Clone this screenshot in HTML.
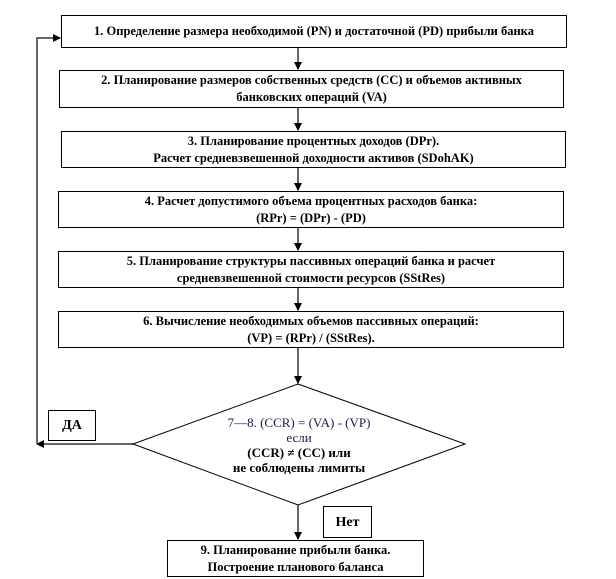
<!DOCTYPE html>
<html><head><meta charset="utf-8"><style>
body{margin:0;width:616px;height:579px;background:#fff;position:relative;overflow:hidden;font-family:"Liberation Serif",serif;}
.b{position:absolute;border:1px solid #000;box-sizing:border-box;text-align:center;font-weight:bold;font-size:12.5px;line-height:17px;display:flex;flex-direction:column;justify-content:center;color:#000;white-space:nowrap}
svg{position:absolute;left:0;top:0}
.t{position:absolute;text-align:center;font-size:13px;line-height:15px;width:240px;left:179px;white-space:nowrap}
</style></head><body>
<svg width="616" height="579">
<defs><marker id="a" markerWidth="8" markerHeight="8" refX="7" refY="4" orient="auto" markerUnits="userSpaceOnUse"><path d="M0,0L8,4L0,8z" fill="#000"/></marker></defs>
<g stroke="#666" stroke-width="2" fill="none">
<line x1="298" y1="47" x2="298" y2="69" marker-end="url(#a)"/>
<line x1="298" y1="107" x2="298" y2="130" marker-end="url(#a)"/>
<line x1="298" y1="168" x2="298" y2="190" marker-end="url(#a)"/>
<line x1="298" y1="228" x2="298" y2="250" marker-end="url(#a)"/>
<line x1="298" y1="288" x2="298" y2="310" marker-end="url(#a)"/>
<line x1="298" y1="348" x2="298" y2="383" marker-end="url(#a)"/>
<line x1="298" y1="505" x2="298" y2="539" marker-end="url(#a)"/>
<line x1="133" y1="444" x2="37" y2="444" marker-end="url(#a)"/>
<polyline points="37,444 37,38 60,38" marker-end="url(#a)"/>
</g>
<polygon points="298,384 465,444 298,505 133,444" fill="#fff" stroke="#000" stroke-width="1"/>
</svg>
<div class="b" style="left:61px;top:15px;width:506px;height:33px">1. Определение размера необходимой (PN) и достаточной (PD) прибыли банка</div>
<div class="b" style="left:59px;top:70px;width:505px;height:38px">2. Планирование размеров собственных средств (СС) и объемов активных<br>банковских операций (VA)</div>
<div class="b" style="left:61px;top:131px;width:505px;height:37px">3. Планирование процентных доходов (DPr).<br>Расчет средневзвешенной доходности активов (SDohAK)</div>
<div class="b" style="left:58px;top:191px;width:506px;height:37px">4. Расчет допустимого объема процентных расходов банка:<br>(RPr) = (DPr) - (PD)</div>
<div class="b" style="left:58px;top:251px;width:506px;height:37px">5. Планирование структуры пассивных операций банка и расчет<br>средневзвешенной стоимости ресурсов (SStRes)</div>
<div class="b" style="left:58px;top:311px;width:506px;height:37px">6. Вычисление необходимых объемов пассивных операций:<br>(VP) = (RPr) / (SStRes).</div>
<div class="t" style="top:415px;color:#1a1a4a">7—8. (CCR) = (VA) - (VP)<br>если</div>
<div class="t" style="top:445px;font-weight:bold">(CCR) ≠ (CC) или<br>не соблюдены лимиты</div>
<div class="b" style="left:48px;top:410px;width:48px;height:31px;font-size:14px">ДА</div>
<div class="b" style="left:323px;top:506px;width:49px;height:32px;font-size:14px">Нет</div>
<div class="b" style="left:167px;top:540px;width:257px;height:37px">9. Планирование прибыли банка.<br>Построение планового баланса</div>
</body></html>
